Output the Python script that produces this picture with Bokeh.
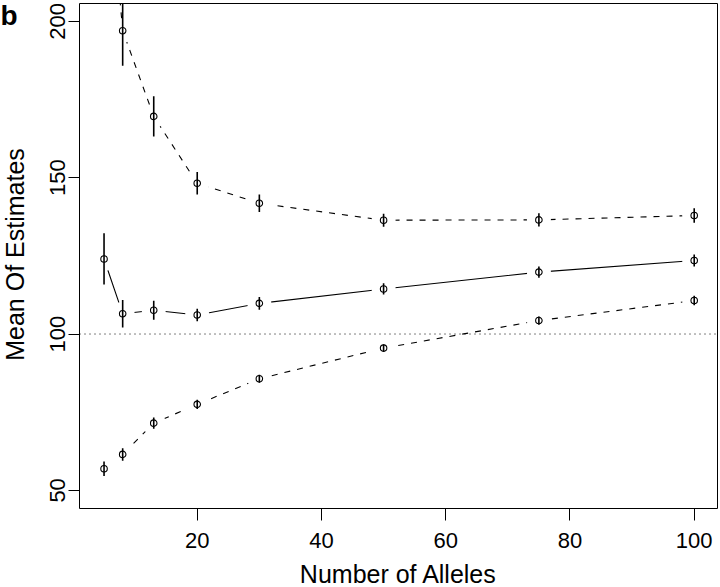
import numpy as np
from bokeh.plotting import figure
from bokeh.models import Range1d, FixedTicker, Span, Label, ColumnDataSource
from bokeh.embed import file_html
from bokeh.resources import INLINE

# ---- data ----
alleles = [5, 8, 13, 20, 30, 50, 75, 100]

upper_mean = [265.0, 197.0, 169.6, 148.2, 141.8, 136.4, 136.5, 137.9]
upper_se   = [15.0, 11.2, 6.4, 3.6, 2.8, 2.1, 2.1, 2.3]

mid_mean = [124.0, 106.5, 107.6, 106.1, 109.8, 114.4, 119.8, 123.5]
mid_se   = [8.2, 4.4, 3.0, 2.0, 2.0, 1.8, 1.8, 1.9]

low_mean = [56.9, 61.5, 71.5, 77.5, 85.7, 95.5, 104.3, 110.7]
low_se   = [2.3, 2.0, 1.8, 1.5, 1.3, 1.2, 1.3, 1.5]

x_ticks = [20, 40, 60, 80, 100]
y_ticks = [50, 100, 150, 200]
reference_value = 100

FONT = "Liberation Sans"

p = figure(width=720, height=587, output_backend="svg", toolbar_location=None,
           title_location=None,
           x_range=Range1d(1.05, 103.75), y_range=Range1d(44.2, 205.7),
           min_border_left=79, min_border_right=3, min_border_top=3,
           min_border_bottom=79)
p.background_fill_color = "white"
p.border_fill_color = "white"
p.outline_line_color = "black"
p.outline_line_width = 1
p.outline_line_alpha = 1
p.xgrid.visible = False
p.ygrid.visible = False

series = [
    (upper_mean, upper_se, "6 7"),
    (mid_mean, mid_se, "solid"),
    (low_mean, low_se, "6 7"),
]

sources = []
for mean, se, dash in series:
    m = np.array(mean)
    s = np.array(se)
    src = ColumnDataSource(dict(x=alleles, y=mean, lo=(m - s).tolist(), hi=(m + s).tolist()))
    sources.append(src)
    p.line("x", "y", source=src, line_color="black", line_width=1.1, line_dash=dash)

# gaps around points (R type="b")
for src in sources:
    p.scatter("x", "y", source=src, size=24, fill_color="white", line_color=None)

p.add_layout(Span(location=reference_value, dimension="width", line_color="black",
                  line_width=1, line_dash="1 4", line_alpha=1.0))

for src in sources:
    p.segment(x0="x", y0="lo", x1="x", y1="hi", source=src, line_color="black", line_width=1.6)
    p.scatter("x", "y", source=src, size=6.5, fill_color=None, line_color="black", line_width=1.1)

# axes
p.xaxis.ticker = FixedTicker(ticks=x_ticks, minor_ticks=[])
p.yaxis.ticker = FixedTicker(ticks=y_ticks, minor_ticks=[])
for ax in (p.xaxis[0], p.yaxis[0]):
    ax.axis_line_color = None
    ax.major_tick_in = 0
    ax.major_tick_out = 11
    ax.major_tick_line_color = "black"
    ax.major_tick_line_width = 1
    ax.minor_tick_line_color = None
    ax.major_label_text_font = FONT
    ax.major_label_text_font_size = "22px"
    ax.major_label_text_color = "black"
p.xaxis.major_tick_out = 12
p.yaxis.major_label_orientation = "vertical"
p.yaxis.major_label_standoff = 3
p.xaxis.major_label_standoff = 12

# axis titles and panel letter, placed in canvas coordinates (side panels)
xlab = Label(x=398, y=573, x_units="canvas", y_units="canvas", text="Number of Alleles",
             text_align="center", text_baseline="alphabetic", text_font=FONT,
             text_font_size="25px", text_color="black")
p.add_layout(xlab, "below")

ylab = Label(x=14, y=254, x_units="canvas", y_units="canvas", text="Mean Of Estimates",
             angle=np.pi / 2, text_align="center", text_baseline="alphabetic",
             text_font=FONT, text_font_size="25px", text_color="black")
p.add_layout(ylab, "left")

panel = Label(x=0, y=15, x_units="canvas", y_units="canvas", text="b",
              text_align="left", text_baseline="alphabetic", text_font=FONT,
              text_font_size="28px", text_font_style="bold", text_color="black")
p.add_layout(panel, "left")

open("out.html", "w").write(file_html(p, INLINE))
